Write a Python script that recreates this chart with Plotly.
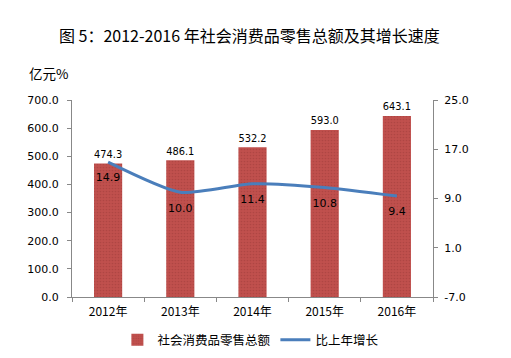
import plotly.graph_objects as go

years = ["2012年", "2013年", "2014年", "2015年", "2016年"]
sales = [474.3, 486.1, 532.2, 593.0, 643.1]
growth = [14.9, 10.0, 11.4, 10.8, 9.4]
left_ticks = [0, 100, 200, 300, 400, 500, 600, 700]
right_ticks = [-7, 1, 9, 17, 25]

font_num = "DejaVu Sans"
font_cjk = "Noto Sans CJK SC"

fig = go.Figure()
fig.add_trace(go.Bar(
    x=years, y=sales, name="社会消费品零售总额",
    marker=dict(color="#C0504D", line=dict(width=0),
                pattern=dict(shape=".", size=3, solidity=0.25, fgcolor="#9E3B39", bgcolor="#C0504D")),
    width=0.39,
    text=[f"{v:.1f}" for v in sales], textposition="outside",
    textfont=dict(family=font_num, size=11, color="#000000"),
    cliponaxis=False,
))
fig.add_trace(go.Scatter(
    x=years, y=growth, name="比上年增长", yaxis="y2",
    mode="lines", line=dict(color="#4A7EBB", width=3, shape="spline", smoothing=0.6),
))
fig.add_trace(go.Scatter(
    x=years, y=growth, yaxis="y2", showlegend=False, hoverinfo="skip",
    mode="markers+text", marker=dict(size=16, color="rgba(0,0,0,0)"),
    text=[f"{v:.1f}" for v in growth], textposition="bottom center",
    textfont=dict(family=font_num, size=11, color="#000000"),
    cliponaxis=False,
))

fig.update_layout(
    width=511, height=358,
    margin=dict(l=72, r=78, t=100, b=61, autoexpand=False),
    paper_bgcolor="white", plot_bgcolor="white",
    showlegend=True,
    legend=dict(orientation="h", x=0.49, xanchor="center", xref="container",
                y=0.05, yanchor="middle", yref="container",
                font=dict(family=font_cjk, size=12.5, color="#000"),
                itemwidth=30, traceorder="normal"),
    xaxis=dict(showline=True, linecolor="#888888", linewidth=1, automargin=False,
               ticks="outside", ticklen=4, tickcolor="#888888",
               tickson="boundaries", ticklabelstandoff=4,
               tickfont=dict(family=font_cjk, size=12, color="#000")),
    yaxis=dict(range=[0, 700], tickvals=left_ticks, automargin=False,
               ticktext=[f"{v:.1f}" for v in left_ticks],
               showgrid=False, zeroline=False,
               showline=True, linecolor="#888888", linewidth=1,
               ticks="outside", ticklen=4, tickcolor="#888888",
               ticklabelstandoff=6,
               tickfont=dict(family=font_num, size=11, color="#000")),
    yaxis2=dict(range=[-7, 25], tickvals=right_ticks, automargin=False,
                ticktext=[f"{v:.1f}" for v in right_ticks],
                overlaying="y", side="right",
                showgrid=False, zeroline=False,
                showline=True, linecolor="#888888", linewidth=1,
                ticks="outside", ticklen=4, tickcolor="#888888",
                ticklabelstandoff=4,
                tickfont=dict(family=font_num, size=11, color="#000")),
    annotations=[
        dict(text="图 5：2012-2016 年社会消费品零售总额及其增长速度",
             xref="paper", yref="paper", x=0.5, y=1.0, yanchor="middle",
             xshift=-3, yshift=65, showarrow=False,
             font=dict(family=font_cjk, size=16, color="#000")),
        dict(text="亿元%", xref="paper", yref="paper", x=0, y=1, xanchor="left",
             yanchor="middle", xshift=-45, yshift=27, showarrow=False,
             font=dict(family=font_cjk, size=13.5, color="#000")),
    ],
)

fig.write_html("out.html", config={"displayModeBar": False},
               post_script="document.body.style.margin='0';")
